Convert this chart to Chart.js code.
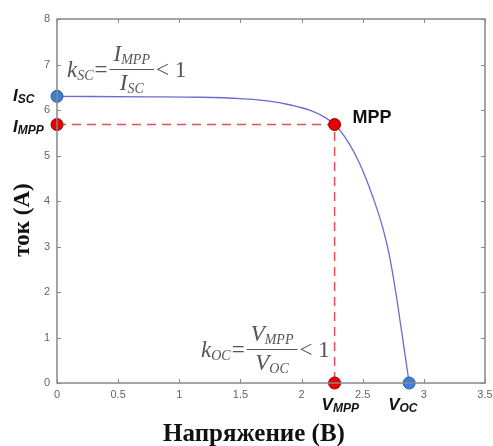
<!DOCTYPE html>
<html>
<head>
<meta charset="utf-8">
<script src="https://cdn.jsdelivr.net/npm/chart.js@4/dist/chart.umd.min.js"></script>
<style>
  html, body { margin: 0; padding: 0; background: #fff; }
  #ivChart { display: block; }
</style>
</head>
<body>
<canvas id="ivChart" width="493" height="446"></canvas>
<script>
// I-V curve
const voltage = [0, 0.76, 1.17, 1.5, 1.72, 1.91, 2.07, 2.17, 2.27, 2.38, 2.47, 2.55, 2.62, 2.67, 2.72, 2.77, 2.82, 2.88];
const current = [6.30, 6.29, 6.28, 6.25, 6.20, 6.11, 5.99, 5.87, 5.68, 5.30, 4.85, 4.33, 3.80, 3.35, 2.78, 2.00, 1.10, 0];

// key points
const iSc = 6.30;
const vOc = 2.88;
const vMpp = 2.27;
const iMpp = 5.68;

// axes
const xTicks = [0, 0.5, 1, 1.5, 2, 2.5, 3, 3.5];
const yTicks = [0, 1, 2, 3, 4, 5, 6, 7, 8];

const serif = '"Liberation Serif", "DejaVu Serif", serif';
const sans = '"Liberation Sans", Arial, sans-serif';

// draw "main" with a subscript next to it, returns the end x
function drawSub(ctx, main, sub, x, y, mainFont, subFont, subDy) {
    ctx.font = mainFont;
    ctx.fillText(main, x, y);
    const w = ctx.measureText(main).width;
    ctx.font = subFont;
    ctx.fillText(sub, x + w, y + subDy);
    return x + w + ctx.measureText(sub).width;
}

function subWidth(ctx, main, sub, mainFont, subFont) {
    ctx.font = mainFont;
    const w = ctx.measureText(main).width;
    ctx.font = subFont;
    return w + ctx.measureText(sub).width;
}

// fraction formula like k = A/B < 1
function drawFormula(ctx, k, kSub, num, numSub, den, denSub, x, barY) {
    const mainF = 'italic 23px ' + serif;
    const subF = 'italic 14px ' + serif;
    ctx.fillStyle = '#555';
    ctx.textAlign = 'left';
    ctx.textBaseline = 'alphabetic';
    let cx = drawSub(ctx, k, kSub, x, barY + 8, mainF, subF, 3);
    ctx.font = '23px ' + serif;
    ctx.fillText('=', cx + 1, barY + 8);
    cx += 1 + ctx.measureText('=').width + 2;
    const numW = subWidth(ctx, num, numSub, mainF, subF);
    const denW = subWidth(ctx, den, denSub, mainF, subF);
    const fw = Math.max(numW, denW) + 8;
    drawSub(ctx, num, numSub, cx + (fw - numW) / 2, barY - 8, mainF, subF, 3);
    drawSub(ctx, den, denSub, cx + (fw - denW) / 2, barY + 21, mainF, subF, 3);
    ctx.strokeStyle = '#555';
    ctx.lineWidth = 1.2;
    ctx.beginPath();
    ctx.moveTo(cx, barY + 0.5);
    ctx.lineTo(cx + fw, barY + 0.5);
    ctx.stroke();
    ctx.font = '23px ' + serif;
    ctx.fillText('< 1', cx + fw + 2, barY + 8);
}

const framePlugin = {
    id: 'framePlugin',
    afterDraw(chart) {
        const ctx = chart.ctx;
        const a = chart.chartArea;
        const xs = chart.scales.x;
        const ys = chart.scales.y;
        ctx.save();

        // box around the plot
        ctx.strokeStyle = '#888';
        ctx.lineWidth = 1.5;
        ctx.strokeRect(a.left, a.top, a.right - a.left, a.bottom - a.top);

        // inward ticks on all four sides
        ctx.lineWidth = 1;
        ctx.beginPath();
        xTicks.forEach((v) => {
            const px = Math.round(xs.getPixelForValue(v)) + 0.5;
            ctx.moveTo(px, a.bottom); ctx.lineTo(px, a.bottom - 4);
            ctx.moveTo(px, a.top); ctx.lineTo(px, a.top + 4);
        });
        yTicks.forEach((v) => {
            const py = Math.round(ys.getPixelForValue(v)) + 0.5;
            ctx.moveTo(a.left, py); ctx.lineTo(a.left + 4, py);
            ctx.moveTo(a.right, py); ctx.lineTo(a.right - 4, py);
        });
        ctx.stroke();

        // axis titles
        ctx.fillStyle = '#111';
        ctx.textAlign = 'center';
        ctx.textBaseline = 'alphabetic';
        ctx.font = 'bold 25px ' + serif;
        ctx.fillText('Напряжение (В)', 254, 441);
        ctx.save();
        ctx.translate(29, 220);
        ctx.rotate(-Math.PI / 2);
        ctx.font = 'bold 23px ' + serif;
        ctx.fillText('ток (А)', 0, 0);
        ctx.restore();

        // point labels
        ctx.textAlign = 'left';
        ctx.fillStyle = '#111';
        const bigF = 'bold italic 17px ' + sans;
        const smallF = 'bold italic 12px ' + sans;
        drawSub(ctx, 'I', 'SC', 13, ys.getPixelForValue(iSc) + 5, bigF, smallF, 2);
        drawSub(ctx, 'I', 'MPP', 13, ys.getPixelForValue(iMpp) + 7, bigF, smallF, 2);
        drawSub(ctx, 'V', 'MPP', xs.getPixelForValue(vMpp) - 13, 410, bigF, smallF, 2);
        drawSub(ctx, 'V', 'OC', xs.getPixelForValue(vOc) - 21, 410, bigF, smallF, 2);
        ctx.font = 'bold 18px ' + sans;
        ctx.fillText('MPP', xs.getPixelForValue(vMpp) + 18, ys.getPixelForValue(iMpp) - 2);

        // formulas
        drawFormula(ctx, 'k', 'SC', 'I', 'MPP', 'I', 'SC', 67, 69);
        drawFormula(ctx, 'k', 'OC', 'V', 'MPP', 'V', 'OC', 201, 349);

        ctx.restore();
    }
};

const curve = voltage.map((v, i) => ({ x: v, y: current[i] }));

new Chart(document.getElementById('ivChart').getContext('2d'), {
    type: 'scatter',
    data: {
        datasets: [
            {
                // blue points: Isc and Voc
                data: [{ x: 0, y: iSc }, { x: vOc, y: 0 }],
                backgroundColor: '#3d7fd6',
                borderColor: '#2a5a9c',
                borderWidth: 1,
                pointRadius: 6,
                clip: false
            },
            {
                // red points: MPP and its projections
                data: [{ x: vMpp, y: iMpp }, { x: 0, y: iMpp }, { x: vMpp, y: 0 }],
                backgroundColor: '#e80000',
                borderColor: '#9a0000',
                borderWidth: 1,
                pointRadius: 6,
                clip: false
            },
            {
                data: curve,
                showLine: true,
                borderColor: '#6b6bd4',
                borderWidth: 1.3,
                pointRadius: 0,
                cubicInterpolationMode: 'monotone',
                clip: false
            },
            {
                data: [{ x: 0, y: iMpp }, { x: vMpp, y: iMpp }, { x: vMpp, y: 0 }],
                showLine: true,
                borderColor: '#e0505a',
                borderWidth: 1.5,
                borderDash: [9, 6],
                pointRadius: 0,
                clip: false
            }
        ]
    },
    options: {
        responsive: false,
        animation: false,
        layout: { padding: { top: 19, right: 8, left: 0, bottom: 0 } },
        plugins: { legend: { display: false }, tooltip: { enabled: false } },
        scales: {
            x: {
                type: 'linear',
                min: 0,
                max: 3.5,
                afterFit: (s) => { s.height = 63; s.paddingLeft = 0; s.paddingRight = 0; },
                afterBuildTicks: (s) => { s.ticks = xTicks.map((v) => ({ value: v })); },
                grid: { display: false, drawTicks: false },
                border: { display: false },
                ticks: { color: '#666', padding: 5, font: { family: sans, size: 11 }, callback: (v) => String(v) }
            },
            y: {
                type: 'linear',
                min: 0,
                max: 8,
                afterFit: (s) => { s.width = 57; s.paddingTop = 0; s.paddingBottom = 0; },
                afterBuildTicks: (s) => { s.ticks = yTicks.map((v) => ({ value: v })); },
                grid: { display: false, drawTicks: false },
                border: { display: false },
                ticks: { color: '#666', padding: 7, font: { family: sans, size: 11 }, callback: (v) => String(v) }
            }
        }
    },
    plugins: [framePlugin]
});
</script>
</body>
</html>
